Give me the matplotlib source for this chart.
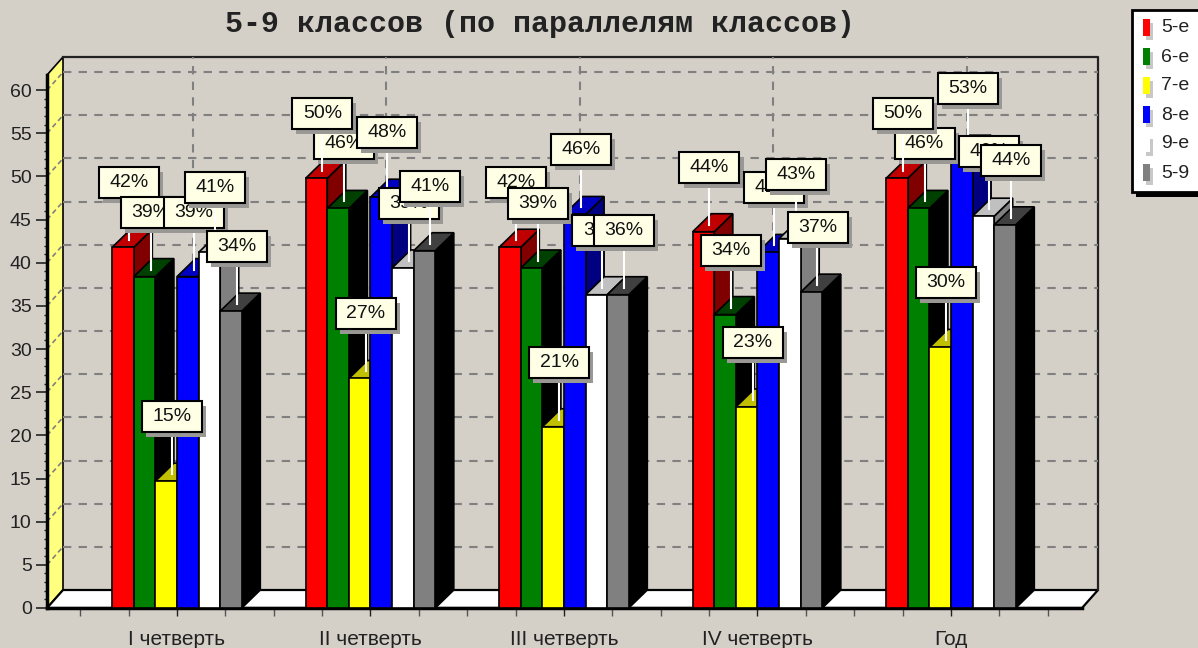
#!/usr/bin/env python3
"""Pseudo-3D grouped bars, 5-9 классов."""
import matplotlib
matplotlib.use('Agg')
import matplotlib.pyplot as plt
from matplotlib.patches import Polygon, Rectangle

W, H = 1198, 648
BG = '#D4D0C8'

categories = ['I четверть', 'II четверть', 'III четверть', 'IV четверть', 'Год']
series_names = ['5-е', '6-е', '7-е', '8-е', '9-е', '5-9']

v5 = [41.8, 49.8, 41.8, 43.6, 49.8]
v6 = [38.4, 46.3, 39.4, 34.0, 46.3]
v7 = [14.7, 26.6, 21.0, 23.3, 30.2]
v8 = [38.4, 47.6, 45.6, 41.2, 52.7]
v9 = [41.2, 39.4, 36.3, 42.8, 45.4]
v59 = [34.4, 41.4, 36.3, 36.6, 44.4]
values = [v5, v6, v7, v8, v9, v59]

l5 = [42, 50, 42, 44, 50]
l6 = [39, 46, 39, 34, 46]
l7 = [15, 27, 21, 23, 30]
l8 = [39, 48, 46, 42, 53]
l9 = [41, 39, 36, 43, 46]
l59 = [34, 41, 36, 37, 44]
labels = [l5, l6, l7, l8, l9, l59]

# which label lies over which, differs per group
label_order = [
    [0, 1, 2, 3, 4, 5],
    [1, 0, 2, 3, 4, 5],
    [0, 1, 2, 3, 4, 5],
    [0, 1, 2, 3, 4, 5],
    [1, 0, 2, 3, 4, 5],
]

front = ['#FF0000', '#008000', '#FFFF00', '#0000FF', '#FFFFFF', '#808080']
top = ['#C00000', '#004000', '#C0C000', '#0000C0', '#C0C0C0', '#404040']
side = ['#800000', '#000000', '#000000', '#000080', '#808080', '#000000']

# plot geometry in pixels
X0, X1 = 47, 1082
Y0, Y1 = 608, 75
CAT0, CAT_STEP = 177, 193.5
PX_PER_UNIT = 8.63
BAR_W = 21.6 / CAT_STEP
px = 1 / CAT_STEP     # one pixel in x data units
py = 1 / PX_PER_UNIT  # one pixel in y data units

fig = plt.figure(figsize=(W / 100, H / 100), dpi=100, facecolor=BG)
plt.rcParams['font.family'] = ['Liberation Sans', 'DejaVu Sans']

ax = fig.add_axes([X0 / W, 1 - Y0 / H, (X1 - X0) / W, (Y0 - Y1) / H])
ax.patch.set_visible(False)
ax.set_xlim((X0 - CAT0) * px, (X1 - CAT0) * px)
ax.set_ylim(0, (Y0 - Y1) * py)
ax.set_autoscale_on(False)
xa, xb = ax.get_xlim()
ymax = ax.get_ylim()[1]
DX, DY = 16 * px, 18 * py
BAR_DX = 18.5 * px

# walls and floor
ax.add_patch(Polygon([(xa, 0), (xa + DX, DY), (xa + DX, ymax + DY), (xa, ymax)],
                     fc='#FFFF80', ec='black', lw=1.2, clip_on=False, zorder=1))
ax.add_patch(Polygon([(xa, 0), (xa + DX, DY), (xb + DX, DY), (xb, 0)],
                     fc='white', ec='black', lw=1.6, clip_on=False, zorder=1))
ax.plot([xa + DX, xb + DX, xb + DX], [ymax + DY, ymax + DY, DY], color='#222222',
        lw=1.6, clip_on=False, zorder=1)

# grid on the back wall and on the left wall
for yt in range(5, 65, 5):
    ax.plot([xa + DX, xb + DX], [yt + DY, yt + DY], color='#808080', lw=1.5,
            dashes=(4, 3.5), clip_on=False, zorder=1.5)
    ax.plot([xa, xa + DX], [yt, yt + DY], color='#808080', lw=1.2,
            dashes=(3, 2), clip_on=False, zorder=1.5)
for i in range(len(categories)):
    ax.plot([i + DX, i + DX], [DY, ymax + DY], color='#808080', lw=1.5,
            dashes=(4, 3.5), clip_on=False, zorder=1.5)

# bars, left to right so the next bar covers the side of the previous one
for g in range(len(categories)):
    for s in range(len(series_names)):
        xc = g + (s - 2.5) * BAR_W
        v = values[s][g]
        l, r = xc - BAR_W / 2, xc + BAR_W / 2
        z = 3 + g + s * 0.1
        ax.add_patch(Polygon([(r, 0), (r + BAR_DX, DY), (r + BAR_DX, v + DY), (r, v)],
                             fc=side[s], ec='black', lw=1.2, clip_on=False, zorder=z))
        ax.add_patch(Polygon([(l, v), (l + BAR_DX, v + DY), (r + BAR_DX, v + DY), (r, v)],
                             fc=top[s], ec='black', lw=1.2, clip_on=False, zorder=z))
        ax.bar(xc, v, BAR_W, color=front[s], edgecolor='black', linewidth=1.2,
               clip_on=False, zorder=z + 0.01)

# value labels with stems and shadows
BOX_W, BOX_H = 60 * px, 31 * py
z = 20
for g in range(len(categories)):
    for s in label_order[g]:
        xc = g + (s - 2.5) * BAR_W + 6 * px
        v = values[s][g]
        bottom = v + 49 * py
        ax.plot([xc, xc], [v + 7 * py, bottom], color='white', lw=1.5,
                clip_on=False, zorder=z)
        ax.add_patch(Rectangle((xc - BOX_W / 2 + 4 * px, bottom - 5 * py), BOX_W, BOX_H,
                               fc='#9A9894', ec='none', clip_on=False, zorder=z + 0.1))
        ax.add_patch(Rectangle((xc - BOX_W / 2, bottom), BOX_W, BOX_H, fc='#FFFFE6',
                               ec='black', lw=1.5, clip_on=False, zorder=z + 0.2))
        ax.text(xc, bottom + BOX_H / 2, f'{labels[s][g]}%', ha='center', va='center',
                fontsize=14, color='#111111', clip_on=False, zorder=z + 0.3)
        z += 1

# axes
for name in ('top', 'right'):
    ax.spines[name].set_visible(False)
ax.spines['left'].set_linewidth(2.5)
ax.spines['bottom'].set_linewidth(2.5)
ax.spines['left'].set_zorder(2)
ax.spines['bottom'].set_zorder(2)
ax.set_yticks(range(0, 65, 5))
ax.set_yticks(range(0, 61), minor=True)
ax.set_xticks(range(len(categories)))
ax.set_xticklabels(categories)
ax.set_xticks([i / 4 for i in range(-2, 4 * len(categories) - 1) if i % 4], minor=True)
ax.set_xlim(xa, xb)
ax.set_ylim(0, ymax)
ax.tick_params(axis='y', which='major', length=8, width=1.2, labelsize=14, pad=3,
               colors='#222222')
ax.tick_params(axis='y', which='minor', length=2.5, width=1.0, color='#222222')
ax.tick_params(axis='x', which='major', length=6, width=1.0, labelsize=15, pad=10,
               colors='#222222')
ax.tick_params(axis='x', which='minor', length=6, width=1.0, color='#555555')

# overlay in pixel coordinates for the title and the legend
ov = fig.add_axes([0, 0, 1, 1])
ov.set_xlim(0, W)
ov.set_ylim(H, 0)
ov.axis('off')
ov.text(540, 24, '5-9 классов (по параллелям классов)', family='Liberation Mono',
        fontweight='bold', fontsize=21.6, ha='center', va='center', color='#222222')

ov.add_patch(Rectangle((1136, 15), 70, 182, fc='black', ec='none'))
ov.add_patch(Rectangle((1132, 10), 70, 182, fc='white', ec='black', lw=2))
for i, name in enumerate(series_names):
    yc = 28 + i * 29
    ov.add_patch(Rectangle((1146, yc - 5), 7, 17, fc='#C8C8C8', ec='none'))
    ov.add_patch(Rectangle((1143, yc - 9), 7, 17, fc=front[i], ec='none'))
    ov.text(1161, yc, name, fontsize=14, va='center', ha='left', color='#222222')

fig.savefig('out.png', dpi=100, facecolor=BG)
